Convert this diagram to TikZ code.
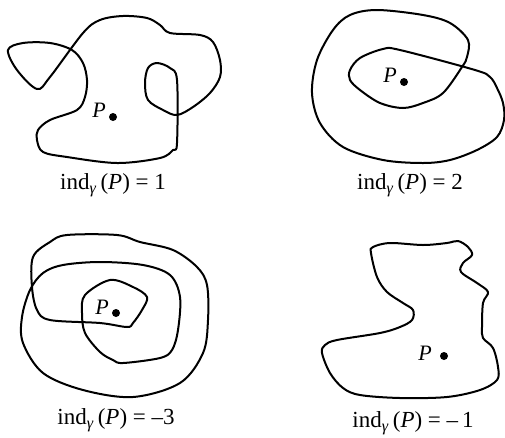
\documentclass[tikz,border=0pt]{standalone}
\usepackage{fontspec}
\setmainfont{Liberation Serif}
\newcommand\indlabel[1]{ind\textsubscript{\textit{γ}}\,(\textit{P}) = #1}
\begin{document}
\begin{tikzpicture}[x=1pt,y=-1pt,
  curve/.style={line width=2pt,line join=round},
  ptlabel/.style={font=\fontsize{22}{26}\selectfont\itshape,inner sep=0pt},
  caption/.style={font=\fontsize{23}{27}\selectfont,inner sep=0pt},
  ptdot/.style={fill=black,circle,inner sep=0pt,minimum size=8pt}]
\useasboundingbox (0,0) rectangle (505,437);
% curve 1
\draw[curve] plot[smooth cycle,tension=0.55] coordinates {
 (170,33) (200,35) (213,42) (220,60) (220,77) (210,93) (193,107) (177,115)
 (163,110) (148,100) (145,83) (148,68) (157,63) (170,68) (177,80)
 (177,143) (173,150) (160,158) (117,163) (67,157) (43,152) (37,140) (38,130)
 (50,120) (77,110) (85,97) (87,80) (83,63) (72,50) (50,43) (23,43) (8,50)
 (17,70) (37,89) (50,77) (83,33) (100,20) (123,16) (147,18) (160,25)};
\node[ptlabel] (p1) at (99,110) {P};
\node[ptdot] (d1) at (113,117) {};
\node[caption] (c1) at (113,185) {\indlabel{1}};
% curve 2
\draw[curve] plot[smooth cycle,tension=0.55] coordinates {
 (400,50) (383,49) (360,58) (350,70) (350,80) (360,90) (380,103) (403,108)
 (423,103) (443,93) (462,67) (467,57) (468,40) (450,23) (423,15) (377,10)
 (350,15) (333,30) (317,60) (312,93) (320,123) (343,147) (383,160) (423,163)
 (450,160) (477,150) (497,137) (504,120) (503,103) (497,88) (490,77) (475,70)};
\node[ptlabel] (p2) at (390,75) {P};
\node[ptdot] (d2) at (404,82) {};
\node[caption] (c2) at (410,185) {\indlabel{2}};
% curve 3
\draw[curve] plot[smooth cycle,tension=0.55] coordinates {
 (67,235) (117,235) (140,242) (173,250) (197,267) (207,285) (208,320) (203,353)
 (180,383) (133,397) (83,390) (43,373) (23,343) (22,317) (30,290) (43,273)
 (63,265) (100,262) (143,265) (170,275) (180,297) (178,330) (172,350) (160,358)
 (123,363) (113,360) (100,352) (85,333) (82,313) (85,295) (110,280) (133,287)
 (147,297) (142,310) (133,323) (127,327) (100,323) (50,320) (37,310) (32,287)
 (33,257) (50,242)};
\node[ptlabel] (p3) at (102,307) {P};
\node[ptdot] (d3) at (116,313) {};
\node[caption] (c3) at (116,420) {\indlabel{–3}};
% curve 4
\draw[curve] plot[smooth cycle,tension=0.55] coordinates {
 (373,247) (390,243) (423,245) (447,243) (458,241) (468,247) (472,255) (463,263)
 (461,272) (477,283) (488,292) (483,303) (482,327) (483,338) (493,348) (498,367)
 (497,380) (480,390) (447,397) (400,398) (360,395) (343,388) (330,373) (322,353)
 (325,345) (337,340) (380,333) (400,327) (412,320) (413,310) (403,303) (387,292)
 (377,277) (371,253)};
\node[ptlabel] (p4) at (425,353) {P};
\node[ptdot] (d4) at (444,356) {};
\node[caption] (c4) at (413,423) {\indlabel{–\,1}};
\end{tikzpicture}
\end{document}
